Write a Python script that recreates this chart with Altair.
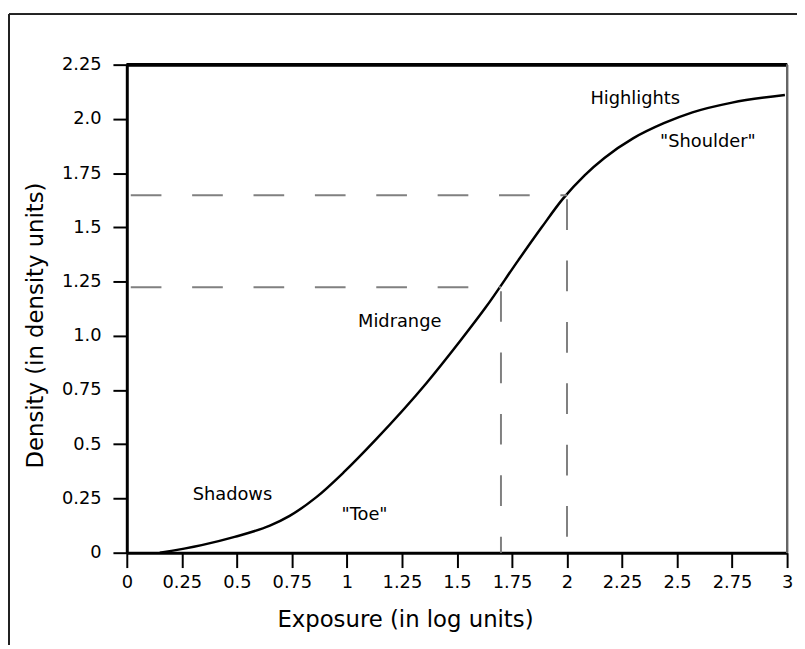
import altair as alt
import pandas as pd

# ---- data ----
exposure = [0.15, 0.34, 0.49, 0.65, 0.74, 0.86, 0.985, 1.13, 1.36, 1.51, 1.63,
            1.78, 1.885, 1.98, 2.08, 2.17, 2.30, 2.44, 2.57, 2.75, 2.99]
density = [0.0, 0.035, 0.073, 0.125, 0.17, 0.255, 0.37, 0.52, 0.78, 0.97, 1.13,
           1.35, 1.50, 1.63, 1.74, 1.82, 1.91, 1.98, 2.03, 2.075, 2.11]

x_ticks = [0, 0.25, 0.5, 0.75, 1, 1.25, 1.5, 1.75, 2, 2.25, 2.5, 2.75, 3]
x_tick_labels = ["0", "0.25", "0.5", "0.75", "1", "1.25", "1.5", "1.75", "2",
                 "2.25", "2.5", "2.75", "3"]
y_ticks = [0, 0.25, 0.5, 0.75, 1, 1.25, 1.5, 1.75, 2, 2.25]
y_tick_labels = ["0", "0.25", "0.5", "0.75", "1.0", "1.25", "1.5", "1.75", "2.0", "2.25"]

dash_x = [1.70, 2.0]
dash_y = [1.224, 1.648]

note_text = ["Highlights", '"Shoulder"', "Midrange", "Shadows", '"Toe"']
note_x = [2.31, 2.64, 1.24, 0.48, 1.08]
note_y = [2.09, 1.895, 1.064, 0.265, 0.174]

W, H = 667, 493
FONT = "DejaVu Sans"


def label_expr(vals, labels):
    return ("[" + ",".join("'%s'" % l for l in labels) + "][indexof(["
            + ",".join(str(v) for v in vals) + "], datum.value)]")


curve_df = pd.DataFrame({"x": exposure, "y": density})
dash_df = pd.DataFrame({"x": dash_x, "y": dash_y, "x0": [0, 0], "y0": [0, 0]})
note_df = pd.DataFrame({"t": note_text, "x": note_x, "y": note_y})

xs = alt.Scale(domain=[0, 3], nice=False, zero=False)
ys = alt.Scale(domain=[0, 2.25], nice=False, zero=False)

x_axis = alt.Axis(
    values=x_ticks, labelExpr=label_expr(x_ticks, x_tick_labels),
    title="Exposure (in log units)", titleX=281, titleY=68,
    titleAlign="center", titleBaseline="middle", titleFontSize=23,
    titleFontWeight="normal", titleFont=FONT, titleColor="black",
    grid=False, tickSize=15, tickWidth=2, tickColor="black",
    domainColor="black", domainWidth=3, labelFontSize=18, labelFont=FONT,
    labelColor="black", labelPadding=6, labelFlush=False, labelOverlap=False,
)
y_axis = alt.Axis(
    values=y_ticks, labelExpr=label_expr(y_ticks, y_tick_labels),
    title="Density (in density units)", titleX=-92, titleY=263,
    titleAngle=270, titleAlign="center", titleBaseline="middle",
    titleFontSize=23, titleFontWeight="normal", titleFont=FONT,
    titleColor="black", grid=False, tickSize=14, tickWidth=2,
    tickColor="black", domainColor="black", domainWidth=3,
    labelFontSize=18, labelFont=FONT, labelColor="black", labelPadding=12,
    labelFlush=False, labelOverlap=False,
)

curve = alt.Chart(curve_df).mark_line(
    color="black", strokeWidth=2.5, interpolate="monotone"
).encode(
    x=alt.X("x:Q", scale=xs, axis=x_axis),
    y=alt.Y("y:Q", scale=ys, axis=y_axis),
)

dash_style = dict(color="#808080", strokeWidth=2, strokeDash=[31, 31],
                  strokeDashOffset=-4)
h_dash = alt.Chart(dash_df).mark_rule(**dash_style).encode(
    x=alt.X("x0:Q", scale=xs, axis=x_axis), x2="x:Q",
    y=alt.Y("y:Q", scale=ys, axis=y_axis),
)
v_dash = alt.Chart(dash_df).mark_rule(**dash_style).encode(
    x=alt.X("x:Q", scale=xs, axis=x_axis),
    y=alt.Y("y:Q", scale=ys, axis=y_axis), y2="y0:Q",
)

notes = alt.Chart(note_df).mark_text(
    fontSize=18, font=FONT, color="black", align="center", baseline="middle"
).encode(
    x=alt.X("x:Q", scale=xs, axis=x_axis),
    y=alt.Y("y:Q", scale=ys, axis=y_axis),
    text="t:N",
)

# plot frame (top black, right grey) and the outer picture frame
top_border = alt.Chart(note_df).mark_rule(color="black", strokeWidth=3).encode(
    x=alt.value(0), x2=alt.value(W), y=alt.value(0)
)
right_border = alt.Chart(note_df).mark_rule(color="#666666", strokeWidth=2).encode(
    x=alt.value(W), y=alt.value(0), y2=alt.value(H)
)
outer_top = alt.Chart(note_df).mark_rule(color="#222222", strokeWidth=1.5).encode(
    x=alt.value(-119), x2=alt.value(W + 40), y=alt.value(-51)
)
outer_left = alt.Chart(note_df).mark_rule(color="#222222", strokeWidth=1.5).encode(
    x=alt.value(-119), y=alt.value(-51), y2=alt.value(H + 120)
)

chart = alt.layer(
    curve, h_dash, v_dash, notes, top_border, right_border, outer_top, outer_left
).properties(
    width=W, height=H,
    autosize=alt.AutoSizeParams(type="none"),
    padding={"left": 120, "top": 54, "right": 10, "bottom": 90},
).configure_view(stroke=None).configure(background="white")

chart.save("out.html", embed_options={"renderer": "svg", "actions": False})
